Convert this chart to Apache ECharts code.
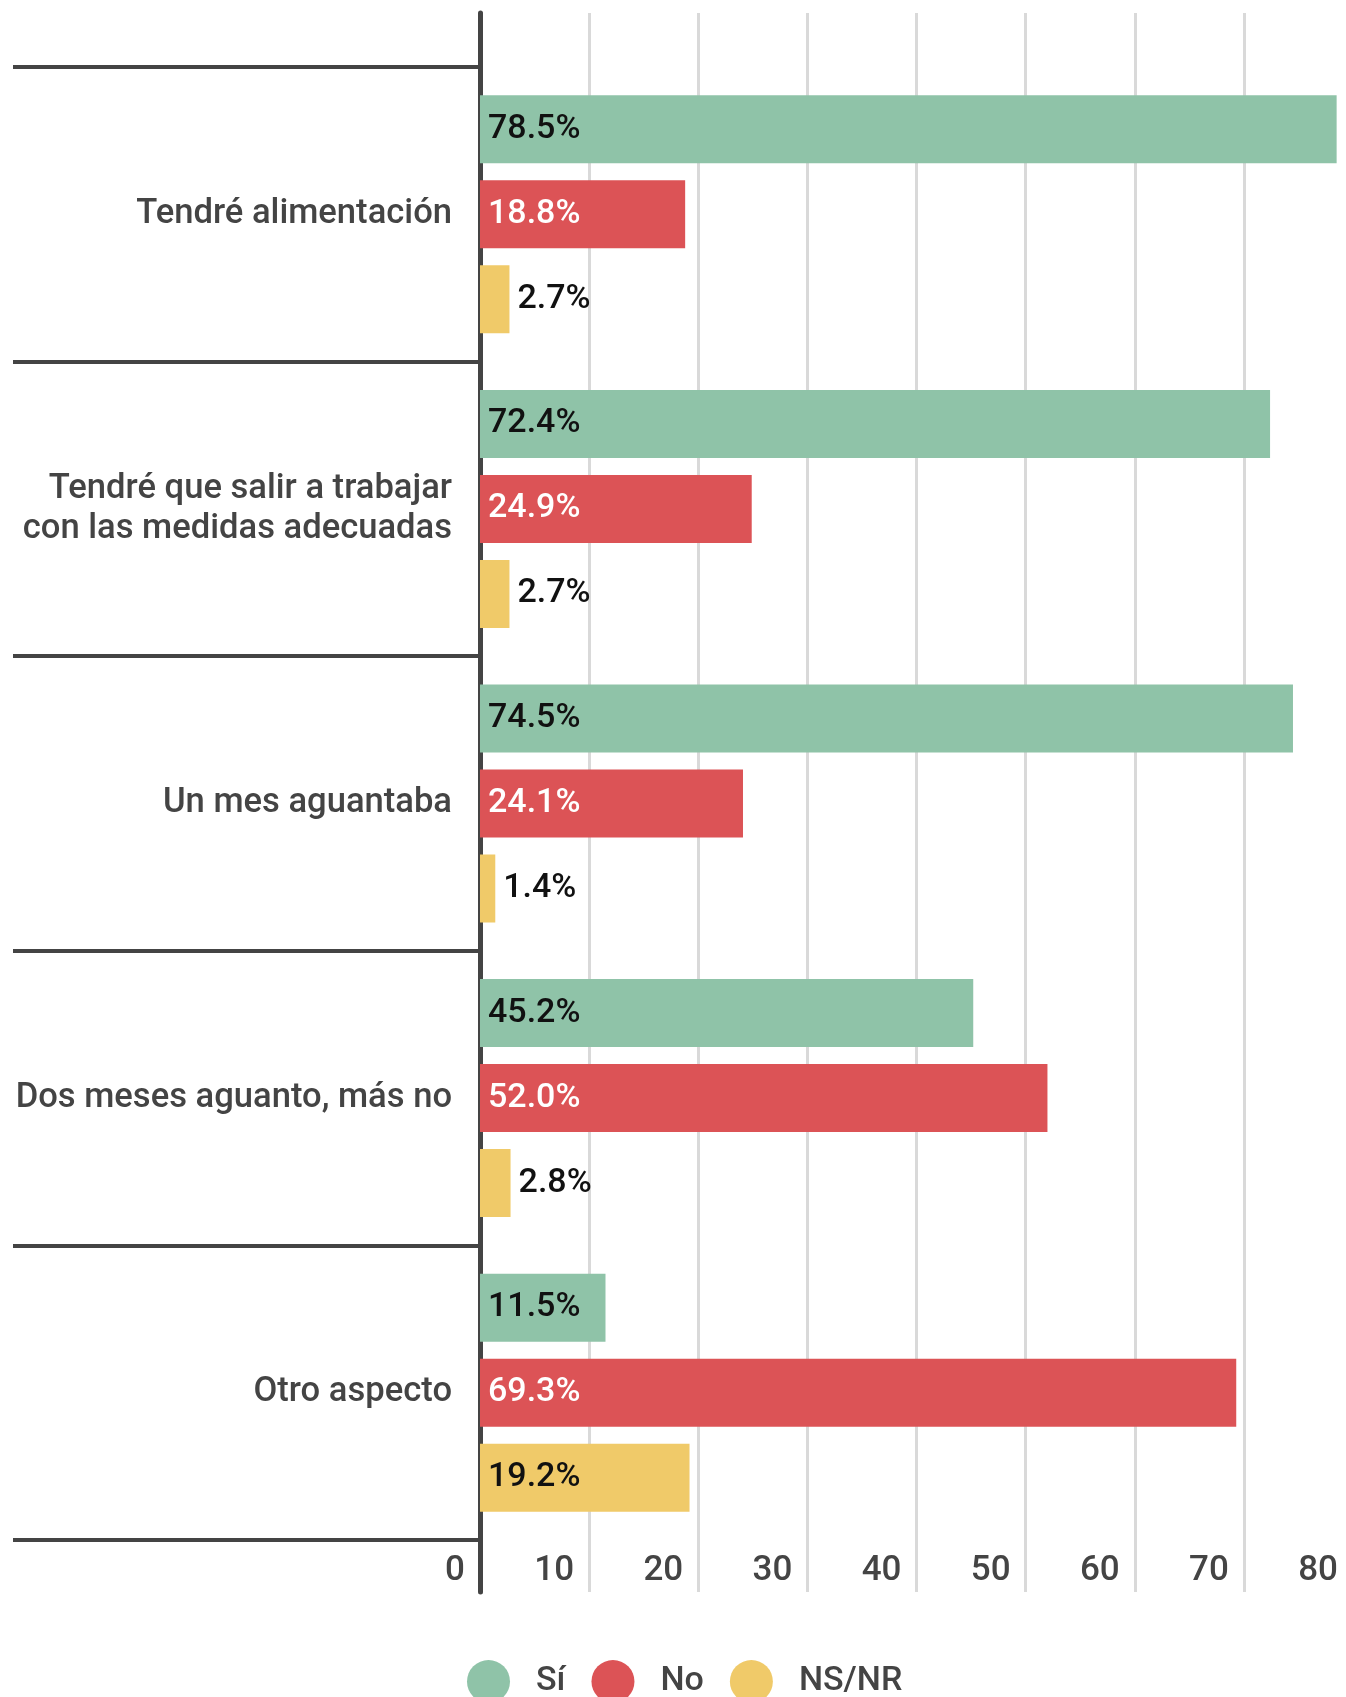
<!DOCTYPE html>
<html><head><meta charset="utf-8">
<script src="https://cdn.jsdelivr.net/npm/echarts@6/dist/echarts.min.js"></script>
<style>html,body{margin:0;padding:0;background:#fff;overflow:hidden;width:1346px;height:1697px}#c{width:1356px;height:1697px}</style>
</head><body><div id="c"></div>
<script>
const categories = ['Tendré alimentación', 'Tendré que salir a trabajar\ncon las medidas adecuadas', 'Un mes aguantaba', 'Dos meses aguanto, más no', 'Otro aspecto'];
const seriesNames = ['Sí', 'No', 'NS/NR'];
const si = [78.5, 72.4, 74.5, 45.2, 11.5];
const no = [18.8, 24.9, 24.1, 52.0, 69.3];
const nsnr = [2.7, 2.7, 1.4, 2.8, 19.2];
const xTicks = [0, 10, 20, 30, 40, 50, 60, 70, 80];

const FONT = 'Roboto';
function mk(name, data, color, labelColor) {
  return {
    name: name, type: 'bar', xAxisIndex: 0, yAxisIndex: 0,
    data: data.map(v => ({ value: v, label: { position: v < 10 ? 'right' : 'insideLeft' } })),
    barWidth: 68, barGap: '25%',
    itemStyle: { color: color },
    label: {
      show: true, formatter: p => p.value.toFixed(1) + '%',
      color: labelColor, fontFamily: FONT, fontWeight: 500, fontSize: 34, distance: 8
    },
    z: 3
  };
}
const chart = echarts.init(document.getElementById('c'), null, { renderer: 'canvas' });
chart.setOption({
  animation: false,
  backgroundColor: '#fff',
  textStyle: { fontFamily: FONT },
  grid: [
    { left: 480, right: 3, top: 67, bottom: 157 },
    { left: 480, right: 3, top: 13, bottom: 105 }
  ],
  legend: {
    data: seriesNames, left: 462, top: 1655, icon: 'circle',
    itemWidth: 43, itemHeight: 43, itemGap: 26,
    textStyle: { fontFamily: FONT, fontWeight: 500, fontSize: 34, color: '#444', padding: [0, 0, 0, 21] }
  },
  xAxis: [
    {
      gridIndex: 0, type: 'value', min: xTicks[0], max: xTicks[xTicks.length - 1], interval: 10,
      axisLine: { show: false }, axisTick: { show: false }, splitLine: { show: false },
      axisLabel: { show: true, align: 'right', padding: [0, 15, 0, 0], margin: 14,
        color: '#444', fontFamily: FONT, fontWeight: 500, fontSize: 35 }
    },
    {
      gridIndex: 1, type: 'value', min: xTicks[0], max: xTicks[xTicks.length - 1], interval: 10,
      axisLine: { show: false }, axisTick: { show: false }, axisLabel: { show: false },
      splitLine: { show: true, lineStyle: { color: '#d9d9d9', width: 3 } }
    }
  ],
  yAxis: [
    {
      gridIndex: 0, type: 'category', data: categories, inverse: true,
      axisLine: { show: false },
      axisTick: { show: true, interval: 0, length: 467, lineStyle: { color: '#444', width: 4 } },
      axisLabel: { margin: 28, color: '#444', fontFamily: FONT, fontWeight: 500, fontSize: 34.6, lineHeight: 40, align: 'right' }
    },
    {
      gridIndex: 1, type: 'value', min: 0, max: 1,
      axisLine: { show: true, onZero: false, lineStyle: { color: '#444', width: 5 } },
      axisTick: { show: false }, axisLabel: { show: false }, splitLine: { show: false }
    }
  ],
  series: [
    mk(seriesNames[0], si, '#8fc3a8', '#111'),
    mk(seriesNames[1], no, '#dc5356', '#fff'),
    mk(seriesNames[2], nsnr, '#f0ca69', '#111'),
    { type: 'line', xAxisIndex: 1, yAxisIndex: 1, data: [], silent: true }
  ]
});
</script></body></html>
